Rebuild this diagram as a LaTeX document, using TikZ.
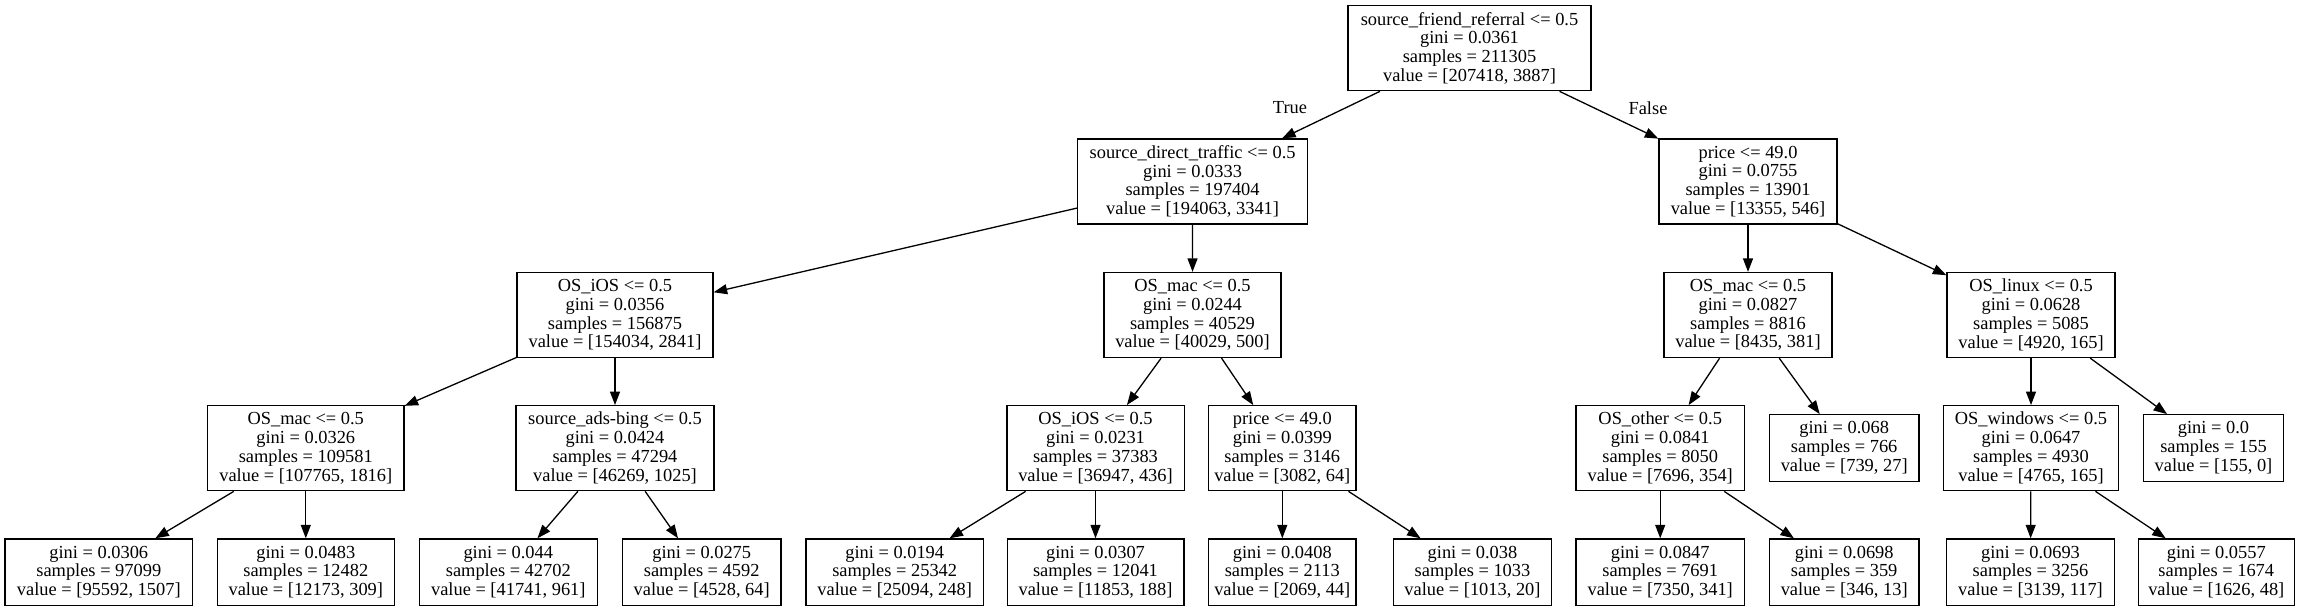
\documentclass[tikz,border=0pt]{standalone}
\usepackage{fontspec}
\setmainfont{Liberation Serif}
\usetikzlibrary{arrows.meta}
\tikzset{
  tn/.style={draw, line width=1.3pt, inner sep=0pt, align=center, anchor=center,
    font=\fontsize{18.4}{18.8}\selectfont},
  big/.style={minimum height=85pt},
  small/.style={minimum height=66.5pt},
  edg/.style={-{Triangle[length=13.5pt,width=10pt]}, line width=1.3pt},
  lbl/.style={inner sep=0pt, font=\fontsize{18.4}{18.8}\selectfont},
}
\begin{document}
\begin{tikzpicture}[x=1pt,y=-1pt]
\useasboundingbox (0,0) rectangle (2303,611);
% row 0
\node[tn,big,minimum width=243pt] (root) at (1469.5,48.2) {source\_friend\_referral <= 0.5\\gini = 0.0361\\samples = 211305\\value = [207418, 3887]};
% row 1
\node[tn,big,minimum width=229.6pt] (sdt) at (1192.6,181.5) {source\_direct\_traffic <= 0.5\\gini = 0.0333\\samples = 197404\\value = [194063, 3341]};
\node[tn,big,minimum width=178pt] (pr1) at (1748,181.5) {price <= 49.0\\gini = 0.0755\\samples = 13901\\value = [13355, 546]};
% row 2
\node[tn,big,minimum width=196pt] (ios2) at (615,315) {OS\_iOS <= 0.5\\gini = 0.0356\\samples = 156875\\value = [154034, 2841]};
\node[tn,big,minimum width=177pt] (mac2) at (1192.5,315) {OS\_mac <= 0.5\\gini = 0.0244\\samples = 40529\\value = [40029, 500]};
\node[tn,big,minimum width=168pt] (mac2r) at (1748,315) {OS\_mac <= 0.5\\gini = 0.0827\\samples = 8816\\value = [8435, 381]};
\node[tn,big,minimum width=168pt] (lin2) at (2031,315) {OS\_linux <= 0.5\\gini = 0.0628\\samples = 5085\\value = [4920, 165]};
% row 3
\node[tn,big,minimum width=196.3pt] (mac3) at (305.8,448.2) {OS\_mac <= 0.5\\gini = 0.0326\\samples = 109581\\value = [107765, 1816]};
\node[tn,big,minimum width=198pt] (bing3) at (615,448.2) {source\_ads-bing <= 0.5\\gini = 0.0424\\samples = 47294\\value = [46269, 1025]};
\node[tn,big,minimum width=177.3pt] (ios3) at (1095.5,448.2) {OS\_iOS <= 0.5\\gini = 0.0231\\samples = 37383\\value = [36947, 436]};
\node[tn,big,minimum width=147.3pt] (pr3) at (1282.3,448.2) {price <= 49.0\\gini = 0.0399\\samples = 3146\\value = [3082, 64]};
\node[tn,big,minimum width=168.3pt] (oth3) at (1660.2,448.2) {OS\_other <= 0.5\\gini = 0.0841\\samples = 8050\\value = [7696, 354]};
\node[tn,small,minimum width=149.7pt] (lf068) at (1844.2,448) {gini = 0.068\\samples = 766\\value = [739, 27]};
\node[tn,big,minimum width=175.3pt] (win3) at (2031,448.2) {OS\_windows <= 0.5\\gini = 0.0647\\samples = 4930\\value = [4765, 165]};
\node[tn,small,minimum width=140.3pt] (lf00) at (2213.5,448) {gini = 0.0\\samples = 155\\value = [155, 0]};
% row 4
\node[tn,small,minimum width=187.7pt] (l1) at (98.8,572.2) {gini = 0.0306\\samples = 97099\\value = [95592, 1507]};
\node[tn,small,minimum width=177pt] (l2) at (305.8,572.2) {gini = 0.0483\\samples = 12482\\value = [12173, 309]};
\node[tn,small,minimum width=178pt] (l3) at (508.3,572.2) {gini = 0.044\\samples = 42702\\value = [41741, 961]};
\node[tn,small,minimum width=158.7pt] (l4) at (701.7,572.2) {gini = 0.0275\\samples = 4592\\value = [4528, 64]};
\node[tn,small,minimum width=177.3pt] (l5) at (894.7,572.2) {gini = 0.0194\\samples = 25342\\value = [25094, 248]};
\node[tn,small,minimum width=176.7pt] (l6) at (1095.5,572.2) {gini = 0.0307\\samples = 12041\\value = [11853, 188]};
\node[tn,small,minimum width=147.3pt] (l7) at (1282.3,572.2) {gini = 0.0408\\samples = 2113\\value = [2069, 44]};
\node[tn,small,minimum width=158.3pt] (l8) at (1472.5,572.2) {gini = 0.038\\samples = 1033\\value = [1013, 20]};
\node[tn,small,minimum width=168.3pt] (l9) at (1660.2,572.2) {gini = 0.0847\\samples = 7691\\value = [7350, 341]};
\node[tn,small,minimum width=149.7pt] (l10) at (1844.2,572.2) {gini = 0.0698\\samples = 359\\value = [346, 13]};
\node[tn,small,minimum width=168.3pt] (l11) at (2030.5,572.2) {gini = 0.0693\\samples = 3256\\value = [3139, 117]};
\node[tn,small,minimum width=156pt] (l12) at (2216.3,572.2) {gini = 0.0557\\samples = 1674\\value = [1626, 48]};
% labels
\node[lbl] (tl) at (1290,108) {True};
\node[lbl] (fl) at (1648,108) {False};
% edges
\draw[edg] (root) -- (sdt);
\draw[edg] (root) -- (pr1);
\draw[edg] (sdt) -- (ios2);
\draw[edg] (sdt) -- (mac2);
\draw[edg] (pr1) -- (mac2r);
\draw[edg] (pr1) -- (lin2);
\draw[edg] (ios2) -- (mac3);
\draw[edg] (ios2) -- (bing3);
\draw[edg] (mac2) -- (ios3);
\draw[edg] (mac2) -- (pr3);
\draw[edg] (mac2r) -- (oth3);
\draw[edg] (mac2r) -- (lf068);
\draw[edg] (lin2) -- (win3);
\draw[edg] (lin2) -- (lf00);
\draw[edg] (mac3) -- (l1);
\draw[edg] (mac3) -- (l2);
\draw[edg] (bing3) -- (l3);
\draw[edg] (bing3) -- (l4);
\draw[edg] (ios3) -- (l5);
\draw[edg] (ios3) -- (l6);
\draw[edg] (pr3) -- (l7);
\draw[edg] (pr3) -- (l8);
\draw[edg] (oth3) -- (l9);
\draw[edg] (oth3) -- (l10);
\draw[edg] (win3) -- (l11);
\draw[edg] (win3) -- (l12);
\end{tikzpicture}
\end{document}
